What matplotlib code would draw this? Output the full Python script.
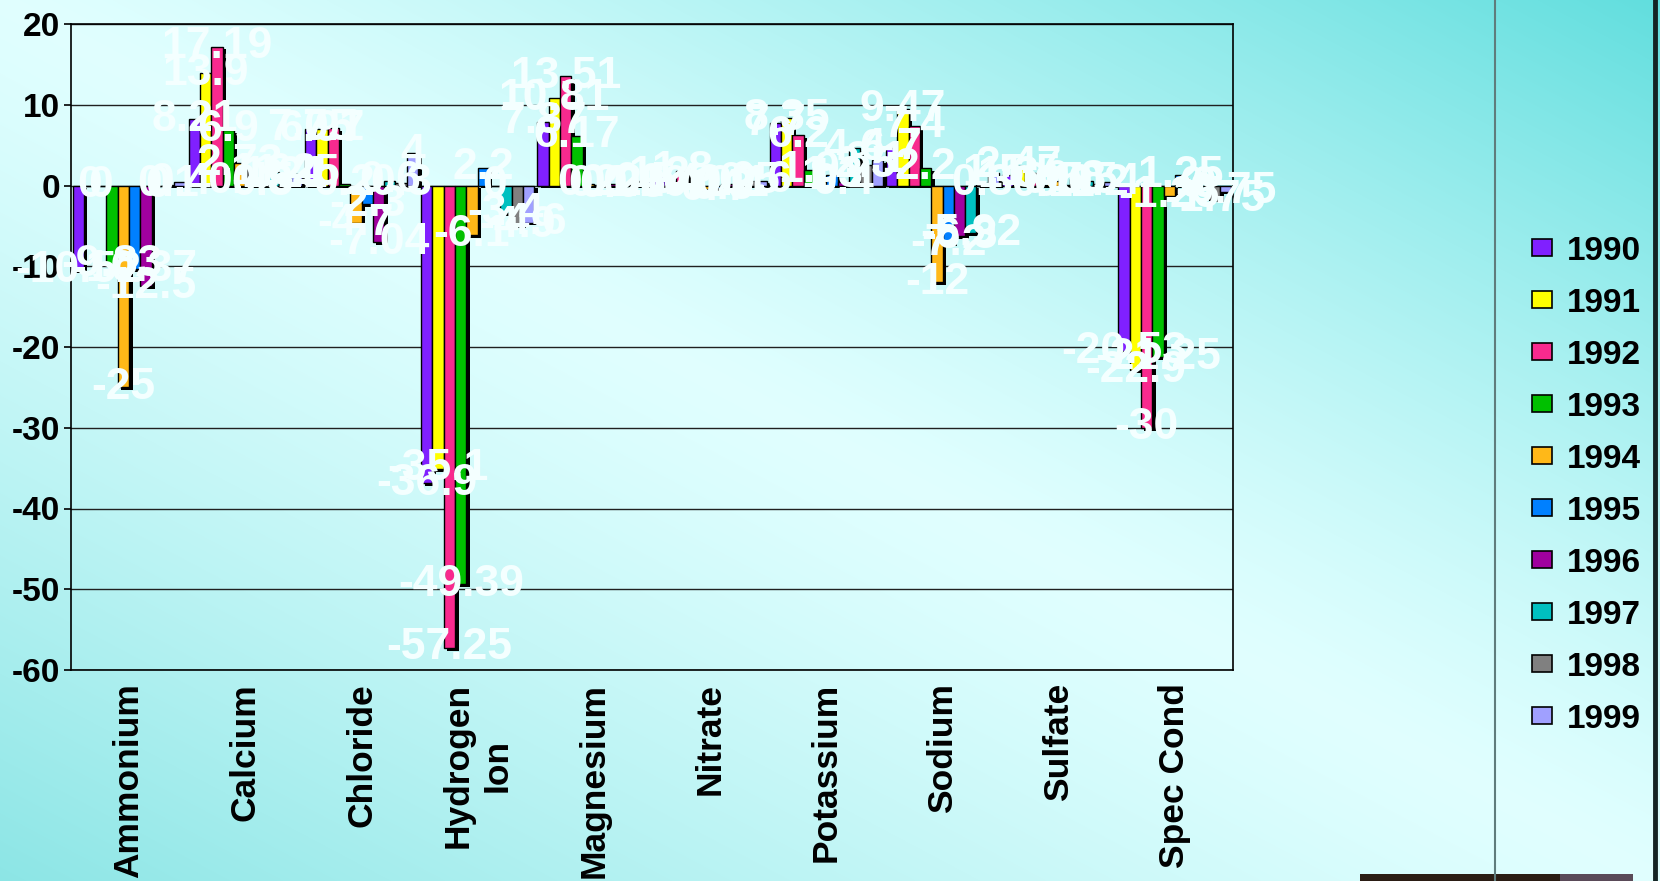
import numpy as np
import matplotlib
matplotlib.use("Agg")
import matplotlib.pyplot as plt
from matplotlib import patheffects as pe
from matplotlib.lines import Line2D
from matplotlib.patches import Rectangle

plt.rcParams['font.family'] = ['Liberation Sans', 'DejaVu Sans']
plt.rcParams['axes.unicode_minus'] = False

# ---- data: percent change per constituent, one list per year ----
categories = ['Ammonium', 'Calcium', 'Chloride', 'Hydrogen\nIon', 'Magnesium',
              'Nitrate', 'Potassium', 'Sodium', 'Sulfate', 'Spec Cond']
years = ['1990', '1991', '1992', '1993', '1994', '1995', '1996', '1997', '1998', '1999']

y1990 = [-10.52, 8.21, 7.05, -36.9, 7.87, 1.2, 7.7, 4.7, 1.3, -20.53]
y1991 = [0, 13.9, 6.97, -35.1, 10.81, 0.4, 8.35, 9.47, 2.47, -22.9]
y1992 = [0, 17.19, 7.1, -57.25, 13.51, 1.8, 6.2, 7.4, 1.5, -30]
y1993 = [-9.83, 6.9, 0.2, -49.39, 6.17, 0.1, 1.9, 2.2, 0.1, -21.25]
y1994 = [-25, 2.73, -4.7, -6.1, 0.2, -0.4, 1.0, -12, 0.5, -1.25]
y1995 = [-10.37, 0.45, -2.3, 2.2, 0.1, -0.3, 1.3, -7.2, 0.1, 1.25]
y1996 = [-12.5, 0.3, -7.04, 0, 0.2, 0.2, 0.4, -6.3, 0.8, 0]
y1997 = [0, 1.62, 0.6, -3.4, 0.05, 0.1, 4.6, -5.92, 0.5, 0]
y1998 = [0.1, 1.21, 0.3, -4.9, 0.1, 0.5, 2.5, 0.3, 0.2, -1.75]
y1999 = [0.4, 1.45, 4.0, -4.6, 0.5, 0.6, 3.1, 1.5, 0.4, -0.75]
series = [y1990, y1991, y1992, y1993, y1994, y1995, y1996, y1997, y1998, y1999]

colors = ['#8020FF', '#FFFF00', '#F82A8E', '#00C000', '#FFB818',
          '#0080FF', '#A0009F', '#00C0C0', '#808080', '#A0A0FF']

W, H = 1660, 881
fig = plt.figure(figsize=(W / 100, H / 100), dpi=100)

# ---- diagonal cyan gradient behind everything ----
bg = fig.add_axes([0, 0, 1, 1], zorder=-10)
xx, yy = np.meshgrid(np.linspace(0, 1, W), np.linspace(0, 1, H))
t = xx - yy
light = np.array([0.88, 1.0, 1.0])
dark_tr = np.array([0.38, 0.87, 0.87])
dark_bl = np.array([0.55, 0.90, 0.90])
wpos = np.clip(t, 0, 1) ** 1.3
wneg = np.clip(-t, 0, 1) ** 1.3
img = (light[None, None, :]
       + wpos[..., None] * (dark_tr - light)[None, None, :]
       + wneg[..., None] * (dark_bl - light)[None, None, :])
bg.imshow(img, aspect='auto', extent=[0, 1, 0, 1], origin='upper')
bg.set_axis_off()

# ---- main chart ----
ax = fig.add_axes([71 / W, 1 - 670 / H, (1233 - 71) / W, (670 - 24) / H])
ax.set_facecolor('none')

n = len(years)
bw = 0.0973
x = np.arange(len(categories))
shadow = [pe.SimplePatchShadow(offset=(2.5, -2), shadow_rgbFace='black', alpha=1.0), pe.Normal()]

handles = []
for j, (vals, col) in enumerate(zip(series, colors)):
    pos = x + (j - (n - 1) / 2) * bw
    bars = ax.bar(pos, vals, width=bw, color=col, edgecolor='black', linewidth=1.0,
                  zorder=3, label=years[j])
    for b in bars:
        b.set_path_effects(shadow)
    handles.append(Rectangle((0, 0), 1, 1, facecolor=col, edgecolor='black', linewidth=1.2))
    for px, v in zip(pos, vals):
        txt = '0' if v == 0 else f'{v:g}'
        ax.text(px, v, txt, ha='center', va='center', fontsize=32, fontweight='bold',
                color='#f4ffff', zorder=6, clip_on=False)

ax.set_xlim(-0.5, len(categories) - 0.5)
ax.set_ylim(-60, 20)
ax.set_yticks(np.arange(-60, 21, 10))
ax.yaxis.grid(True, color='#202020', linewidth=1.0, zorder=0)
ax.set_axisbelow(True)
ax.tick_params(axis='y', labelsize=24, length=5, width=1.2, pad=3, direction='out')
for lab in ax.get_yticklabels():
    lab.set_fontweight('bold')

ax.set_xticks(x)
ax.set_xticklabels(categories, rotation=90, fontsize=25.5, fontweight='bold',
                   va='top', ha='center', multialignment='center')
ax.tick_params(axis='x', length=0, pad=9.5)
for sp in ax.spines.values():
    sp.set_color('black')
    sp.set_linewidth(1.2)

# ---- legend ----
fig.legend(handles, years, loc='center left', bbox_to_anchor=(1519 / W, 1 - 485 / H),
           frameon=False, prop={'size': 24, 'weight': 'bold'},
           handlelength=0.6, handleheight=0.4, handletextpad=0.45, labelspacing=0.63,
           borderaxespad=0)

# ---- frame decorations ----
fig.add_artist(Line2D([1495 / W, 1495 / W], [0, 1], color='#5f7c7c', linewidth=1.5))
fig.add_artist(Line2D([1655 / W, 1655 / W], [0, 1], color='#142424', linewidth=3.5))
fig.add_artist(Rectangle((1360 / W, 0), (1560 - 1360) / W, 7 / H, transform=fig.transFigure,
                         facecolor='#2b1d14', edgecolor='none'))
fig.add_artist(Rectangle((1560 / W, 0), (1633 - 1560) / W, 7 / H, transform=fig.transFigure,
                         facecolor='#5a4a58', edgecolor='none'))

fig.savefig('out.png', dpi=100)
